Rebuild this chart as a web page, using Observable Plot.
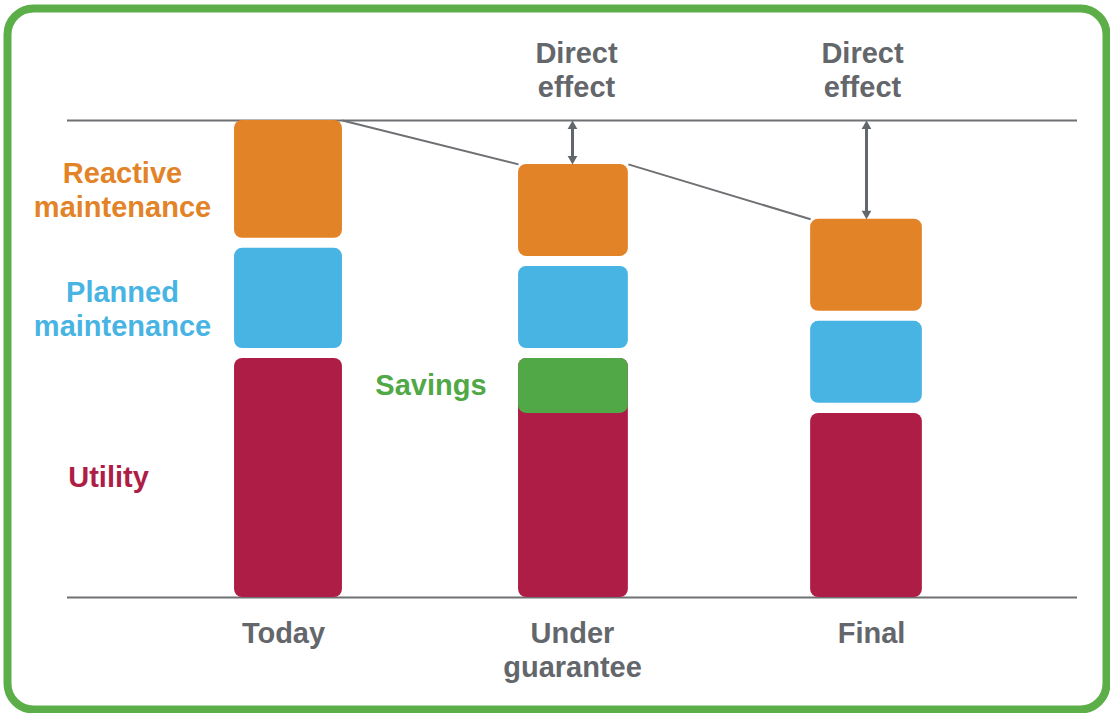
<!DOCTYPE html>
<html><head><meta charset="utf-8">
<script src="https://cdn.jsdelivr.net/npm/d3@7"></script>
<script src="https://cdn.jsdelivr.net/npm/@observablehq/plot@0.6"></script>
<style>html,body{margin:0;padding:0;background:#fff;} #chart svg{display:block;}</style>
</head><body><div id="chart"></div>
<script>
// ---- data (top of "Today" = 100) ----
const categories = ["Today", "Under guarantee", "Final"];
const categoryLabels = ["Today", "Under\nguarantee", "Final"];
const utility  = [50.1, 50.1, 38.6];
const savings  = [0, 11.5, 0];
const planned  = [21.0, 17.2, 17.2];
const reactive = [24.7, 19.3, 19.3];
const seriesNames  = ["Utility", "Planned maintenance", "Reactive maintenance"];
const seriesLabels = ["Utility", "Planned\nmaintenance", "Reactive\nmaintenance"];
const savingsLabel = "Savings";
const effectLabel = "Direct\neffect";

// ---- styles ----
const GAP = 2.1;   // gap between stacked blocks (value units)
const HW = 0.19;   // half bar width (index units)
const colors = {
  "Utility": "#AE1D46",
  "Planned maintenance": "#48B4E4",
  "Reactive maintenance": "#E38327",
  "Savings": "#50A847"
};
const gray = "#63666A";
const lineGray = "#6E7073";
const FONT = "'Liberation Sans', Arial, sans-serif";
const FS = 29;
const labelDy = {"Utility": -2, "Planned maintenance": 10, "Reactive maintenance": 10};
const labelDx = {"Utility": -180, "Planned maintenance": -166, "Reactive maintenance": -166};
const catDx = [-5, 0, 5];
const effectDx = [0, 4, -4];

// ---- derived tables ----
const segs = [];
const tops = [];
categories.forEach((c, i) => {
  let y = 0;
  [utility[i], planned[i], reactive[i]].forEach((v, k) => {
    if (k > 0) y += GAP;
    segs.push({cat: c, i, series: seriesNames[k], label: seriesLabels[k], y1: y, y2: y + v});
    y += v;
  });
  tops.push(y);
});
const saveSegs = categories.map((c, i) => ({cat: c, i, y1: utility[i] - savings[i], y2: utility[i], v: savings[i]})).filter(d => d.v > 0);
const links = categories.slice(0, -1).map((c, i) => ({x1: i + HW, y1: tops[i], x2: i + 1 - HW, y2: tops[i + 1]}));
const effects = categories.map((c, i) => ({i, top: tops[i]})).filter(d => d.i > 0);
const xLabels = categories.map((c, i) => ({i, label: categoryLabels[i]}));

const textBase = {fontFamily: FONT, fontSize: FS, fontWeight: "bold", lineHeight: 1.15};

const chart = Plot.plot({
  width: 1110,
  height: 713,
  margin: 0,
  x: {type: "linear", domain: [0, 1, 2], range: [288, 572, 866], axis: null},
  y: {domain: [0, 100], range: [597, 120], axis: null},
  style: {fontFamily: FONT, background: "#fff"},
  marks: [
    Plot.frame({stroke: "#5BAE48", strokeWidth: 8, rx: 26, insetLeft: 7, insetTop: 8, insetRight: 4, insetBottom: 4}),
    Plot.ruleY([0, 100], {stroke: lineGray, strokeWidth: 2, insetLeft: 67, insetRight: 33}),
    Plot.link(links, {x1: "x1", y1: "y1", x2: "x2", y2: "y2", stroke: lineGray, strokeWidth: 2}),
    Plot.rect(segs, {x1: d => d.i - HW, x2: d => d.i + HW, y1: "y1", y2: "y2", fill: d => colors[d.series], rx: 8}),
    Plot.rect(saveSegs, {x1: d => d.i - HW, x2: d => d.i + HW, y1: "y1", y2: "y2", fill: colors["Savings"], rx: 8}),
    // double arrows
    Plot.ruleX(effects, {x: "i", y1: () => tops[0], y2: "top", stroke: gray, strokeWidth: 3, insetTop: 6, insetBottom: 6}),
    Plot.dot(effects, {x: "i", y: () => tops[0], symbol: "triangle", r: 3.6, fill: gray, stroke: "none", dy: 5.6}),
    Plot.dot(effects, {x: "i", y: "top", symbol: "triangle", r: 3.6, fill: gray, stroke: "none", rotate: 180, dy: -5.6}),
    ...effects.map(e => Plot.text([e], {x: "i", y: () => tops[0], text: () => effectLabel, lineAnchor: "bottom", dy: -24, dx: effectDx[e.i], fill: gray, ...textBase})),
    // category labels
    ...xLabels.map(d => Plot.text([d], {x: "i", y: () => 0, text: "label", lineAnchor: "top", dy: 22, dx: catDx[d.i], fill: gray, ...textBase})),
    // series labels beside the first bar
    ...seriesNames.map(s => Plot.text(segs.filter(d => d.i === 0 && d.series === s), {
      x: "i", y: d => (d.y1 + d.y2) / 2, text: "label", dx: labelDx[s], dy: labelDy[s], fill: colors[s], ...textBase
    })),
    Plot.text(saveSegs, {x: d => d.i - HW, y: d => (d.y1 + d.y2) / 2, text: () => savingsLabel, textAnchor: "end", dx: -32, dy: -2, fill: colors["Savings"], ...textBase})
  ]
});
document.getElementById("chart").appendChild(chart);
</script>
</body></html>
